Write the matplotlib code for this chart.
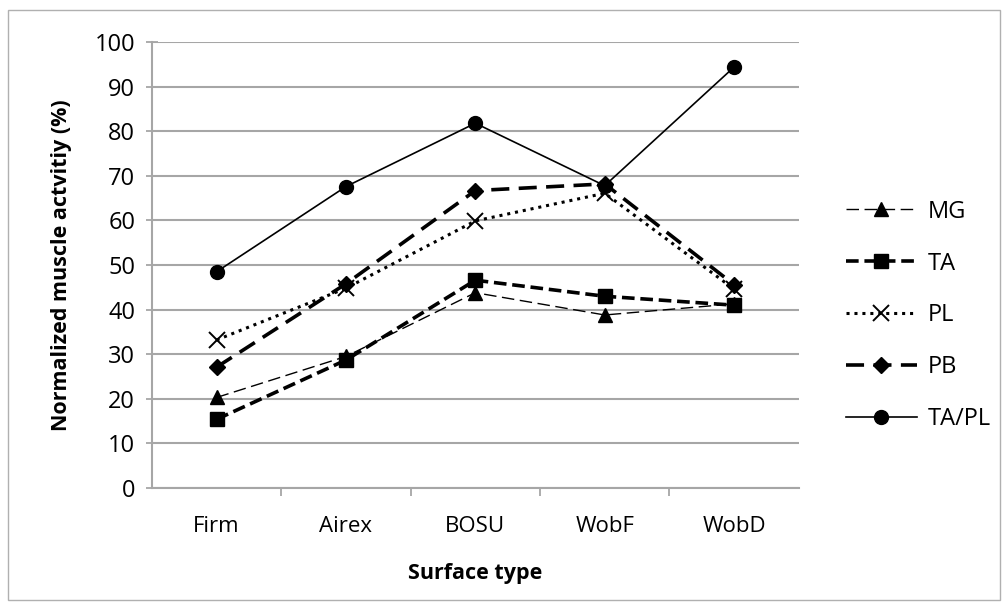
import matplotlib
matplotlib.use("Agg")
import matplotlib.pyplot as plt
from matplotlib.patches import Rectangle

categories = ["Firm", "Airex", "BOSU", "WobF", "WobD"]
MG = [20.3, 29.5, 43.8, 38.8, 41.3]
TA = [15.4, 28.7, 46.6, 43.0, 41.0]
PL = [33.2, 44.8, 59.9, 66.1, 44.6]
PB = [27.1, 45.8, 66.7, 68.2, 45.6]
TAPL = [48.5, 67.6, 81.8, 67.8, 94.4]
yticks = list(range(0, 101, 10))

plt.rcParams['font.family'] = ['Open Sans', 'DejaVu Sans']

fig = plt.figure(figsize=(10.06, 6.10), dpi=100)
fig.patches.append(Rectangle((0.008, 0.016), 0.986, 0.968, transform=fig.transFigure,
                             fill=False, edgecolor='#b0b0b0', linewidth=1.0))
ax = fig.add_axes([0.151, 0.2, 0.643, 0.731])

x = list(range(len(categories)))
ax.plot(x, MG, color='black', lw=1.0, dashes=(9, 4), marker='^', ms=10, label='MG')
ax.plot(x, TA, color='black', lw=2.6, dashes=(3.5, 1.6), marker='s', ms=10, label='TA')
ax.plot(x, PL, color='black', lw=2.2, dashes=(1, 1.6), marker='x', ms=11, mew=1.4, label='PL')
ax.plot(x, PB, color='black', lw=2.6, dashes=(5, 2.6), marker='D', ms=8, label='PB')
ax.plot(x, TAPL, color='black', lw=1.2, marker='o', ms=10, label='TA/PL')

ax.set_xlim(-0.5, len(categories) - 0.5)
ax.set_ylim(0, 100)
ax.set_yticks(yticks)
ax.set_yticklabels([str(v) for v in yticks], fontsize=17)
ax.yaxis.grid(True, color='#a6a6a6', lw=1.5)
ax.set_axisbelow(True)

ax.set_xticks(x)
ax.set_xticklabels(categories, fontsize=16)
ax.set_xticks([i + 0.5 for i in range(len(categories) - 1)], minor=True)
ax.tick_params(axis='x', which='major', length=0, pad=20)
ax.tick_params(axis='x', which='minor', length=6, color='#a6a6a6', width=1.3, direction='out')
ax.tick_params(axis='y', length=8, color='#a6a6a6', width=1.3, direction='inout', pad=8)

for s in ['top', 'right']:
    ax.spines[s].set_visible(False)
for s in ['left', 'bottom']:
    ax.spines[s].set_color('#a6a6a6')
    ax.spines[s].set_linewidth(1.5)

ax.set_ylabel('Normalized muscle actvitiy (%)', fontsize=15.5, fontweight='bold', labelpad=16)
ax.set_xlabel('Surface type', fontsize=15.5, fontweight='bold', labelpad=19)

leg = ax.legend(loc='center left', bbox_to_anchor=(1.04, 0.387), frameon=False,
                fontsize=17, handlelength=3.0, labelspacing=1.18, handletextpad=0.45)

fig.savefig('out.png', dpi=100)
